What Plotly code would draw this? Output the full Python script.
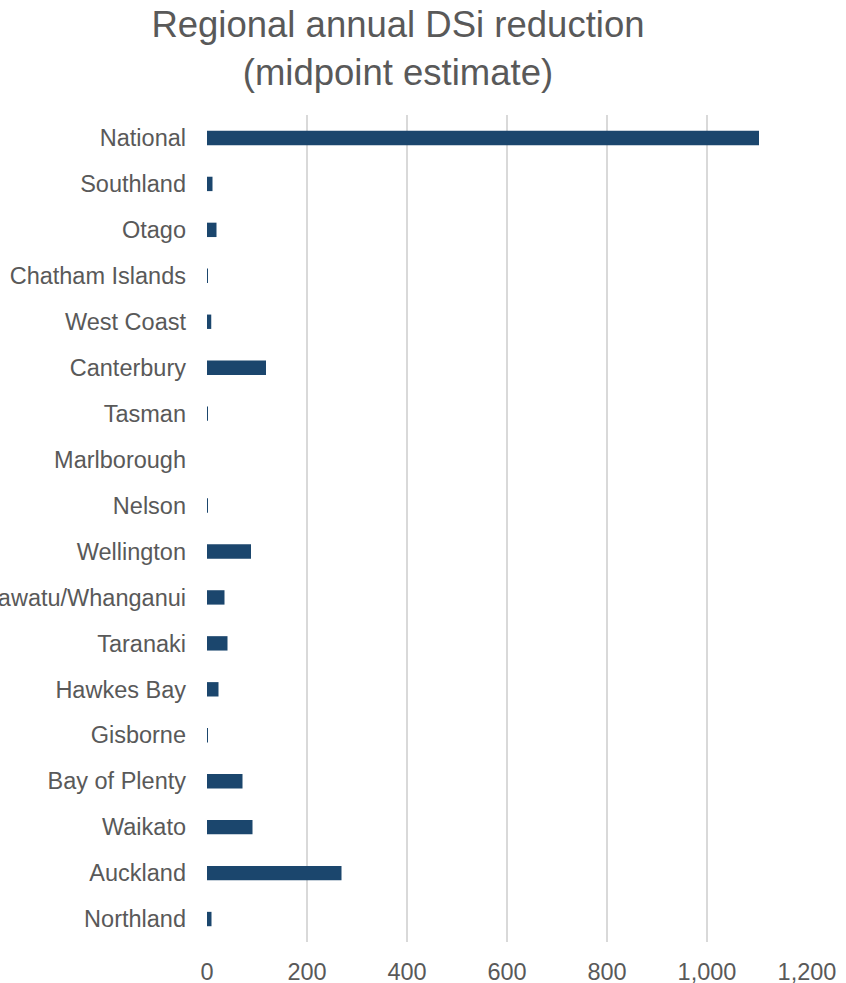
import plotly.graph_objects as go

# Regions listed bottom to top as they appear on the category axis
regions = [
    "Northland", "Auckland", "Waikato", "Bay of Plenty", "Gisborne",
    "Hawkes Bay", "Taranaki", "Manawatu/Whanganui", "Wellington", "Nelson",
    "Marlborough", "Tasman", "Canterbury", "West Coast", "Chatham Islands",
    "Otago", "Southland", "National",
]
dsi_reduction = [
    9, 269, 91, 71, 1.5,
    23, 41, 35, 88, 2,
    0, 2, 118, 8.5, 2,
    19, 11, 1104,
]

x_ticks = [0, 200, 400, 600, 800, 1000, 1200]

FONT = "Liberation Sans, Arial, sans-serif"
GREY = "#595959"

fig = go.Figure(
    go.Bar(
        x=dsi_reduction,
        y=regions,
        orientation="h",
        marker=dict(color="#1b466d", line=dict(width=0)),
    )
)

fig.update_layout(
    width=846,
    height=983,
    paper_bgcolor="white",
    plot_bgcolor="white",
    margin=dict(l=207, r=39, t=115, b=41, autoexpand=False),
    bargap=0.687,
    showlegend=False,
    title=dict(
        text="Regional annual DSi reduction<br>(midpoint estimate)",
        x=0.4704,
        xanchor="center",
        xref="container",
        y=0.962,
        yanchor="top",
        yref="container",
        font=dict(family=FONT, size=36.5, color=GREY),
    ),
    font=dict(family=FONT, color=GREY),
)

fig.update_xaxes(
    range=[0, 1200],
    tickvals=x_ticks,
    tickformat=",",
    showgrid=True,
    gridcolor="#d9d9d9",
    gridwidth=2,
    zeroline=False,
    showline=False,
    ticks="",
    ticklabelstandoff=13,
    tickfont=dict(family=FONT, size=23.5, color=GREY),
    automargin=False,
    fixedrange=True,
)

fig.update_yaxes(
    type="category",
    categoryorder="array",
    categoryarray=regions,
    showgrid=False,
    zeroline=False,
    showline=False,
    ticks="",
    ticklabelstandoff=20,
    tickfont=dict(family=FONT, size=23.5, color=GREY),
    automargin=False,
    fixedrange=True,
)

fig.write_html("out.html", config={"displayModeBar": False})
